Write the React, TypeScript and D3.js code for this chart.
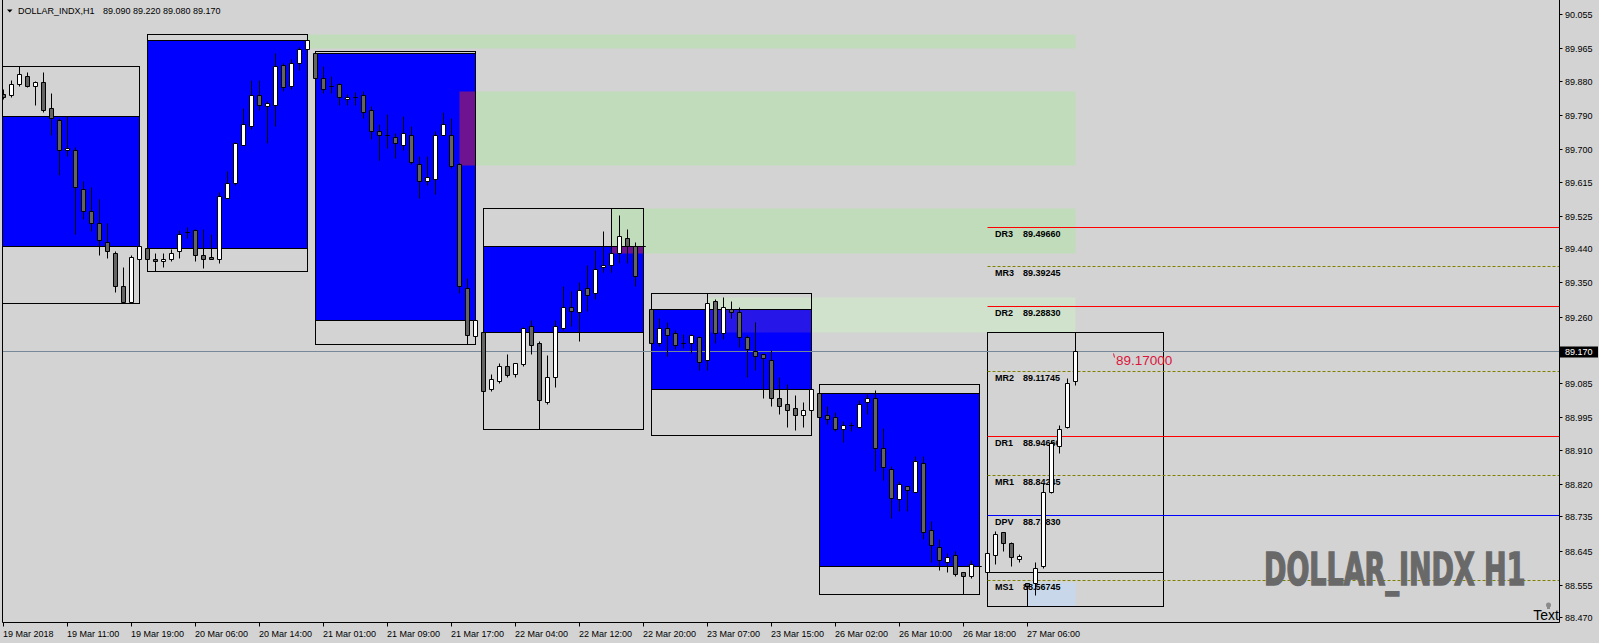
import React from "react";
import * as d3 from "d3";

const WIDTH = 1599;
const HEIGHT = 643;

// ---- candle data (H1 bars, index 0 = 19 Mar 2018 00:00) ----
const opens = [
  89.844, 89.843, 89.872, 89.893, 89.867, 89.877, 89.809, 89.777, 89.698, 89.698,
  89.596, 89.537, 89.507, 89.457, 89.428, 89.341, 89.299, 89.412, 89.441, 89.412,
  89.407, 89.412, 89.433, 89.483, 89.488, 89.422, 89.417, 89.412, 89.572, 89.611,
  89.712, 89.760, 89.842, 89.814, 89.817, 89.922, 89.867, 89.927, 89.964, 89.953,
  89.888, 89.867, 89.872, 89.832, 89.838, 89.843, 89.803, 89.748, 89.738, 89.733,
  89.710, 89.738, 89.662, 89.616, 89.621, 89.738, 89.738, 89.662, 89.336, 89.209,
  89.220, 89.070, 89.090, 89.131, 89.110, 89.135, 89.236, 89.191, 89.035, 89.102,
  89.231, 89.286, 89.272, 89.336, 89.323, 89.391, 89.396, 89.428, 89.467, 89.446,
  89.446, 89.281, 89.190, 89.231, 89.217, 89.190, 89.190, 89.207, 89.147, 89.302,
  89.217, 89.281, 89.273, 89.207, 89.170, 89.162, 89.147, 89.047, 89.031, 89.020,
  89.002, 89.015, 89.060, 89.002, 88.997, 88.965, 88.976, 88.969, 89.036, 89.047,
  88.915, 88.860, 88.781, 88.815, 88.800, 88.876, 88.700, 88.655, 88.616, 88.634,
  88.589, 88.579, 88.604, 88.589, 88.634, 88.694, 88.666, 88.624, 88.559, 88.560,
  88.604, 88.800, 88.919, 88.970, 89.090,
];
const highs = [
  89.859, 89.882, 89.918, 89.903, 89.878, 89.903, 89.848, 89.781, 89.787, 89.705,
  89.617, 89.601, 89.568, 89.507, 89.433, 89.391, 89.423, 89.448, 89.443, 89.428,
  89.428, 89.438, 89.488, 89.496, 89.489, 89.491, 89.478, 89.588, 89.642, 89.718,
  89.809, 89.882, 89.882, 89.826, 89.953, 89.927, 89.938, 89.969, 90.003, 89.958,
  89.919, 89.893, 89.873, 89.844, 89.849, 89.854, 89.814, 89.767, 89.793, 89.743,
  89.788, 89.760, 89.683, 89.683, 89.749, 89.798, 89.782, 89.663, 89.362, 89.253,
  89.223, 89.110, 89.137, 89.163, 89.138, 89.232, 89.252, 89.196, 89.158, 89.252,
  89.341, 89.326, 89.352, 89.396, 89.436, 89.484, 89.546, 89.528, 89.489, 89.457,
  89.446, 89.282, 89.257, 89.246, 89.225, 89.213, 89.213, 89.208, 89.323, 89.307,
  89.312, 89.302, 89.286, 89.212, 89.246, 89.163, 89.172, 89.102, 89.082, 89.055,
  89.036, 89.071, 89.082, 89.026, 89.010, 88.985, 88.982, 89.041, 89.057, 89.068,
  88.968, 88.867, 88.827, 88.816, 88.894, 88.894, 88.722, 88.676, 88.639, 88.645,
  88.590, 88.621, 88.604, 88.640, 88.696, 88.695, 88.667, 88.637, 88.561, 88.616,
  88.823, 88.937, 88.976, 89.099, 89.220,
];
const lows = [
  89.832, 89.837, 89.866, 89.863, 89.816, 89.797, 89.737, 89.632, 89.682, 89.476,
  89.516, 89.486, 89.421, 89.415, 89.324, 89.297, 89.297, 89.410, 89.410, 89.381,
  89.390, 89.407, 89.415, 89.466, 89.405, 89.389, 89.411, 89.401, 89.571, 89.605,
  89.711, 89.754, 89.802, 89.717, 89.760, 89.853, 89.859, 89.908, 89.963, 89.886,
  89.847, 89.847, 89.816, 89.816, 89.816, 89.782, 89.726, 89.671, 89.703, 89.676,
  89.697, 89.661, 89.571, 89.605, 89.581, 89.737, 89.650, 89.323, 89.188, 89.206,
  89.062, 89.064, 89.085, 89.101, 89.101, 89.130, 89.163, 88.965, 89.030, 89.074,
  89.225, 89.235, 89.195, 89.275, 89.307, 89.377, 89.377, 89.401, 89.401, 89.340,
  89.446, 89.188, 89.184, 89.156, 89.174, 89.178, 89.164, 89.119, 89.119, 89.190,
  89.200, 89.257, 89.180, 89.101, 89.119, 89.047, 89.025, 89.005, 88.969, 88.963,
  88.969, 88.949, 88.995, 88.979, 88.959, 88.930, 88.959, 88.968, 89.005, 88.854,
  88.831, 88.731, 88.749, 88.749, 88.799, 88.676, 88.616, 88.595, 88.588, 88.579,
  88.530, 88.574, 88.604, 88.588, 88.609, 88.643, 88.604, 88.615, 88.500, 88.528,
  88.600, 88.797, 88.902, 88.968, 89.080,
];
const closes = [
  89.838, 89.872, 89.898, 89.866, 89.877, 89.803, 89.781, 89.697, 89.704, 89.600,
  89.537, 89.507, 89.461, 89.432, 89.340, 89.299, 89.417, 89.446, 89.412, 89.407,
  89.412, 89.428, 89.478, 89.483, 89.422, 89.412, 89.412, 89.577, 89.611, 89.717,
  89.766, 89.842, 89.817, 89.822, 89.919, 89.864, 89.927, 89.964, 89.987, 89.888,
  89.858, 89.865, 89.837, 89.838, 89.838, 89.798, 89.747, 89.738, 89.738, 89.716,
  89.743, 89.666, 89.616, 89.627, 89.738, 89.767, 89.656, 89.340, 89.211, 89.251,
  89.064, 89.097, 89.131, 89.106, 89.137, 89.231, 89.185, 89.040, 89.102, 89.236,
  89.286, 89.275, 89.330, 89.317, 89.386, 89.396, 89.428, 89.473, 89.446, 89.366,
  89.446, 89.190, 89.231, 89.211, 89.185, 89.190, 89.212, 89.140, 89.296, 89.217,
  89.286, 89.273, 89.207, 89.174, 89.157, 89.152, 89.047, 89.025, 89.014, 89.001,
  89.015, 89.070, 88.996, 88.991, 88.965, 88.976, 88.976, 89.031, 89.047, 88.915,
  88.864, 88.784, 88.821, 88.805, 88.880, 88.694, 88.659, 88.620, 88.629, 88.584,
  88.579, 88.609, 88.604, 88.639, 88.689, 88.666, 88.628, 88.630, 88.553, 88.600,
  88.800, 88.928, 88.965, 89.086, 89.170,
];

// ---- axes ----
const timeTickBars = [0, 8, 16, 24, 32, 40, 48, 56, 64, 72, 80, 88, 96, 104, 112, 120, 128];
const timeTickLabels = [
  "19 Mar 2018", "19 Mar 11:00", "19 Mar 19:00", "20 Mar 06:00", "20 Mar 14:00",
  "21 Mar 01:00", "21 Mar 09:00", "21 Mar 17:00", "22 Mar 04:00", "22 Mar 12:00",
  "22 Mar 20:00", "23 Mar 07:00", "23 Mar 15:00", "26 Mar 02:00", "26 Mar 10:00",
  "26 Mar 18:00", "27 Mar 06:00",
];
const priceTicks = [
  90.055, 89.965, 89.88, 89.79, 89.7, 89.615, 89.525, 89.44, 89.35, 89.26,
  89.17, 89.085, 88.995, 88.91, 88.82, 88.735, 88.645, 88.555, 88.47,
];
const priceTickLabels = [
  "90.055", "89.965", "89.880", "89.790", "89.700", "89.615", "89.525", "89.440", "89.350", "89.260",
  "89.170", "89.085", "88.995", "88.910", "88.820", "88.735", "88.645", "88.555", "88.470",
];
const lastPrice = 89.17;

// ---- daily boxes ----
const boxStart = [-2, 18, 39, 60, 81, 102, 123];
const boxEnd = [17, 38, 59, 80, 101, 122, 145];
const boxHigh = [89.919, 90.003, 89.958, 89.546, 89.323, 89.082, 89.22];
const boxLow = [89.297, 89.381, 89.188, 88.965, 88.949, 88.53, 88.5];
const boxOpen = [89.788, 89.441, 89.953, 89.22, 89.281, 89.06, 88.589];
const boxClose = [89.446, 89.987, 89.252, 89.446, 89.071, 88.604, 89.17];
const boxFilled = [true, true, true, true, true, true, false];

// ---- supply zones ----
const zoneStart = [38, 57, 76, 88];
const zoneEnd = [134, 134, 134, 134];
const zoneTop = [90.003, 89.854, 89.546, 89.312];
const zoneBottom = [89.965, 89.658, 89.428, 89.219];
const zoneColor = ["#c1dcba", "#c1dcba", "#c1dcba", "#d0e1cc"];
const zoneOverlap = ["#6e1490", "#6e1490", "#6e1490", "#2616e8"];

// ---- pivots ----
const pivotNames = ["DR3", "MR3", "DR2", "MR2", "DR1", "MR1", "DPV", "MS1"];
const pivotValues = [89.4966, 89.39245, 89.2883, 89.11745, 88.9466, 88.84245, 88.7383, 88.56745];
const pivotKinds = ["d", "m", "d", "m", "d", "m", "p", "m"];
const pivotStartBar = 123;

// light blue zone
const lbStart = 128;
const lbEnd = 134;
const lbTop = 88.563;
const lbBottom = 88.5;

const priceTextBar = 139;
const priceText = "89.17000";

const FONT = "'Liberation Sans', Arial, sans-serif";

export default function App() {
  const plotLeft = 2.5;
  const plotRight = 1559.5;
  const plotBottom = 622.5;

  const x = d3.scaleLinear().domain([0, 134]).range([3.5, 1075.5]);
  const y = d3.scaleLinear().domain([88.47, 90.055]).range([617.7, 14.6]);
  const cy = (p: number) => Math.floor(y(p)) + 0.5;

  const overlaps: { x0: number; x1: number; y0: number; y1: number; c: string }[] = [];
  zoneStart.forEach((zs, zi) => {
    boxStart.forEach((bs, bi) => {
      if (!boxFilled[bi]) return;
      const x0 = Math.max(x(zs), x(bs));
      const x1 = Math.min(x(zoneEnd[zi]), x(boxEnd[bi]));
      const bTop = Math.max(boxOpen[bi], boxClose[bi]);
      const bBot = Math.min(boxOpen[bi], boxClose[bi]);
      const y0 = Math.max(cy(zoneTop[zi]), cy(bTop));
      const y1 = Math.min(cy(zoneBottom[zi]), cy(bBot));
      if (x1 > x0 && y1 > y0) overlaps.push({ x0, x1, y0, y1, c: zoneOverlap[zi] });
    });
  });

  const pivotColor = (k: string) => (k === "d" ? "#ff0000" : k === "p" ? "#0000ff" : "#808000");

  return (
    <svg
      width={WIDTH}
      height={HEIGHT}
      style={{ position: "fixed", left: 0, top: 0, background: "#d3d3d3" }}
      fontFamily={FONT}
    >
      <defs>
        <clipPath id="plot">
          <rect x={plotLeft} y={0} width={plotRight - plotLeft} height={plotBottom} />
        </clipPath>
      </defs>
      <rect x={0} y={0} width={WIDTH} height={HEIGHT} fill="#d3d3d3" />

      <g clipPath="url(#plot)">
        {/* zones */}
        {zoneStart.map((zs, i) => (
          <rect
            key={"z" + i}
            x={x(zs)}
            y={cy(zoneTop[i])}
            width={x(zoneEnd[i]) - x(zs)}
            height={cy(zoneBottom[i]) - cy(zoneTop[i])}
            fill={zoneColor[i]}
          />
        ))}
        {/* box fills */}
        {boxStart.map((bs, i) =>
          boxFilled[i] ? (
            <rect
              key={"bf" + i}
              x={x(bs)}
              y={cy(Math.max(boxOpen[i], boxClose[i]))}
              width={x(boxEnd[i]) - x(bs)}
              height={cy(Math.min(boxOpen[i], boxClose[i])) - cy(Math.max(boxOpen[i], boxClose[i]))}
              fill="#0000ff"
            />
          ) : null
        )}
        {overlaps.map((o, i) => (
          <rect key={"o" + i} x={o.x0} y={o.y0} width={o.x1 - o.x0} height={o.y1 - o.y0} fill={o.c} />
        ))}
        {/* light blue */}
        <rect
          x={x(lbStart)}
          y={cy(lbTop)}
          width={x(lbEnd) - x(lbStart)}
          height={cy(lbBottom) - cy(lbTop)}
          fill="#c8d8ea"
        />
        {/* box outlines */}
        {boxStart.map((bs, i) => (
          <g key={"bo" + i} fill="none" stroke="#000" strokeWidth={1}>
            <rect x={x(bs)} y={cy(boxHigh[i])} width={x(boxEnd[i]) - x(bs)} height={cy(boxLow[i]) - cy(boxHigh[i])} />
            <line x1={x(bs)} x2={x(boxEnd[i])} y1={cy(boxOpen[i])} y2={cy(boxOpen[i])} />
            <line x1={x(bs)} x2={x(boxEnd[i])} y1={cy(boxClose[i])} y2={cy(boxClose[i])} />
          </g>
        ))}
        {/* bid line */}
        <line x1={plotLeft} x2={plotRight} y1={cy(lastPrice)} y2={cy(lastPrice)} stroke="#778899" strokeWidth={1} />
        {/* pivots */}
        {pivotValues.map((v, i) => (
          <g key={"p" + i}>
            <line
              x1={x(pivotStartBar)}
              x2={plotRight}
              y1={cy(v)}
              y2={cy(v)}
              stroke={pivotColor(pivotKinds[i])}
              strokeWidth={1}
              strokeDasharray={pivotKinds[i] === "m" ? "3,2" : undefined}
            />
            <text x={x(pivotStartBar) + 7.5} y={cy(v) + 9} fontSize={9} fontWeight="bold" fill="#000">
              {pivotNames[i]}
            </text>
            <text x={x(pivotStartBar) + 35.5} y={cy(v) + 9} fontSize={9} fontWeight="bold" fill="#000">
              {v.toFixed(5)}
            </text>
          </g>
        ))}
        {/* candles */}
        {opens.map((o, i) => {
          const c = closes[i];
          const cx = x(i);
          const yt = cy(Math.max(o, c));
          const yb = cy(Math.min(o, c));
          return (
            <g key={"c" + i}>
              <line x1={cx} x2={cx} y1={cy(highs[i])} y2={cy(lows[i])} stroke="#000" strokeWidth={1} />
              <path
                d={`M${cx - 2},${yt}H${cx + 2}V${yb}H${cx - 2}Z`}
                fill={c >= o ? "#ffffff" : "#646464"}
                stroke="#000"
                strokeWidth={1}
              />
            </g>
          );
        })}
        {/* price text object */}
        <line x1={x(priceTextBar) - 2} x2={x(priceTextBar) - 1} y1={cy(lastPrice) + 2} y2={cy(lastPrice) + 6} stroke="#dc143c" />
        <text x={x(priceTextBar) + 0.5} y={cy(lastPrice) + 13.5} fontSize={13.5} fill="#dc143c">
          {priceText}
        </text>
        {/* big watermark text */}
        <text
          transform="translate(1264,585) scale(1,1.5)"
          x={0}
          y={0}
          fontSize={30}
          fontWeight="bold"
          fill="#696969"
          stroke="#696969"
          strokeWidth={1}
          fontFamily="'DejaVu Sans Condensed', 'Liberation Sans Narrow', sans-serif"
        >
          DOLLAR_INDX H1
        </text>
        {/* Text label with icon */}
        <circle cx={1548.5} cy={605} r={2.5} fill="#8a8a8a" />
        <rect x={1547} y={607} width={3} height={2} fill="#8a8a8a" />
        <text x={1559} y={620} fontSize={14} textAnchor="end" fill="#000">
          Text
        </text>
      </g>

      {/* frame */}
      <g stroke="#000" strokeWidth={1} fill="none">
        <line x1={plotLeft} x2={plotLeft} y1={0} y2={plotBottom} />
        <line x1={plotRight} x2={plotRight} y1={0} y2={plotBottom} />
        <line x1={plotLeft} x2={plotRight} y1={plotBottom} y2={plotBottom} />
      </g>

      {/* price axis */}
      {priceTicks.map((p, i) => (
        <g key={"yt" + i}>
          <line x1={plotRight} x2={plotRight + 3} y1={cy(p)} y2={cy(p)} stroke="#000" />
          <text x={1565} y={cy(p) + 3.5} fontSize={9} fill="#000">
            {priceTickLabels[i]}
          </text>
        </g>
      ))}
      <rect x={1560} y={cy(lastPrice) - 5} width={38} height={11} fill="#000" />
      <text x={1565} y={cy(lastPrice) + 3.5} fontSize={9} fill="#fff">
        {lastPrice.toFixed(3)}
      </text>

      {/* time axis */}
      {timeTickBars.map((b, i) => (
        <g key={"xt" + i}>
          <line x1={x(b)} x2={x(b)} y1={plotBottom} y2={plotBottom + 4} stroke="#000" />
          <text x={x(b) - 0.5} y={637} fontSize={9} fill="#000">
            {timeTickLabels[i]}
          </text>
        </g>
      ))}

      {/* header */}
      <path d="M7,9.5H12.5L9.75,12.5Z" fill="#000" />
      <text x={18} y={14} fontSize={9} fill="#000">
        DOLLAR_INDX,H1
      </text>
      <text x={103} y={14} fontSize={9} fill="#000">
        89.090 89.220 89.080 89.170
      </text>
    </svg>
  );
}
